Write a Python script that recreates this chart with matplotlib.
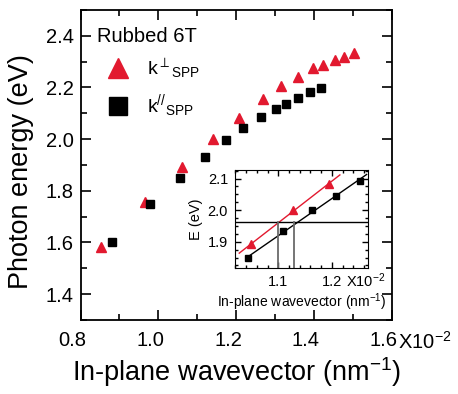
import matplotlib
matplotlib.use("Agg")
import matplotlib.pyplot as plt
import matplotlib.transforms as mtransforms
import numpy as np
from matplotlib.lines import Line2D
from matplotlib.ticker import MultipleLocator, FormatStrFormatter

plt.rcParams['font.family'] = ['Liberation Sans', 'DejaVu Sans']
plt.rcParams['mathtext.fontset'] = 'custom'
plt.rcParams['mathtext.rm'] = 'Liberation Sans'
plt.rcParams['mathtext.it'] = 'Liberation Sans'
plt.rcParams['mathtext.fallback'] = 'stixsans'

# main panel data (x in units of 1e-2 nm^-1)
perp_k = [0.852, 0.966, 1.061, 1.140, 1.207, 1.268, 1.316, 1.359, 1.398, 1.424, 1.454, 1.478, 1.504]
perp_E = [1.582, 1.755, 1.893, 1.999, 2.083, 2.154, 2.204, 2.242, 2.276, 2.288, 2.305, 2.319, 2.332]
par_k = [0.881, 0.979, 1.056, 1.121, 1.174, 1.219, 1.263, 1.302, 1.329, 1.360, 1.390, 1.418]
par_E = [1.601, 1.749, 1.851, 1.932, 1.996, 2.041, 2.087, 2.118, 2.136, 2.159, 2.181, 2.196]

# inset data
ins_perp_k = [1.049, 1.128, 1.195]
ins_perp_E = [1.892, 1.999, 2.084]
ins_par_k = [1.044, 1.109, 1.163, 1.208, 1.252]
ins_par_E = [1.848, 1.934, 1.999, 2.046, 2.093]
fit_range_perp = [1.027, 1.215]
fit_range_par = [1.041, 1.265]
E_level = 1.961
cross_k = [1.0985, 1.1284]

red = '#e2192f'

fig = plt.figure(figsize=(4.58, 3.94), dpi=100)
ax = fig.add_axes([0.176, 0.188, 0.679, 0.787])

ax.plot(perp_k, perp_E, '^', color=red, ms=7.5, mec=red, ls='none')
ax.plot(par_k, par_E, 's', color='black', ms=5.5, ls='none')

ax.set_xlim(0.8, 1.6)
ax.set_ylim(1.3, 2.5)
ax.xaxis.set_major_locator(MultipleLocator(0.2))
ax.xaxis.set_minor_locator(MultipleLocator(0.1))
ax.yaxis.set_major_locator(MultipleLocator(0.2))
ax.yaxis.set_minor_locator(MultipleLocator(0.1))
ax.xaxis.set_major_formatter(FormatStrFormatter('%.1f'))
ax.yaxis.set_major_formatter(FormatStrFormatter('%.1f'))
ax.tick_params(which='both', direction='in', top=True, right=True, labelsize=14.5, width=1.2)
ax.tick_params(which='major', length=7, pad=8)
ax.tick_params(which='minor', length=4)
ax.tick_params(axis='y', which='major', pad=5)
for s in ax.spines.values():
    s.set_linewidth(1.3)

# origin-style: x tick labels sit a bit left of their ticks
shift = mtransforms.ScaledTranslation(-8 / 100, 0, fig.dpi_scale_trans)
for lbl in ax.get_xticklabels():
    lbl.set_transform(lbl.get_transform() + shift)

ax.set_xlabel('In-plane wavevector (nm$^{-1}$)', fontsize=19.5, labelpad=4)
ax.set_ylabel('Photon energy (eV)', fontsize=19.5)
ax.yaxis.set_label_coords(-0.15, 0.48)
ax.text(1.022, -0.035, 'X10$^{-2}$', transform=ax.transAxes, fontsize=14.5,
        ha='left', va='top')

ax.text(0.052, 0.913, 'Rubbed 6T', transform=ax.transAxes, fontsize=14.5,
        ha='left', va='center')
handles = [Line2D([], [], marker='^', color=red, ls='none', ms=15),
           Line2D([], [], marker='s', color='black', ls='none', ms=13)]
labels = ['k$^{\\perp}{}_{\\mathrm{SPP}}$', 'k$^{\\mathrm{//}}{}_{\\mathrm{SPP}}$']
leg = ax.legend(handles, labels, loc='upper left', bbox_to_anchor=(0.0, 0.906),
                frameon=False, fontsize=14, labelspacing=0.64, handletextpad=0.5,
                borderaxespad=0.6, borderpad=0.3)

# inset
ins = fig.add_axes([0.513, 0.3206, 0.291, 0.2479])
p1 = np.polyfit(ins_perp_k, ins_perp_E, 1)
p2 = np.polyfit(ins_par_k, ins_par_E, 1)
ins.plot(fit_range_perp, np.polyval(p1, fit_range_perp), color=red, lw=1)
ins.plot(fit_range_par, np.polyval(p2, fit_range_par), color='black', lw=1)
ins.plot(ins_perp_k, ins_perp_E, '^', color=red, ms=5.5)
ins.plot(ins_par_k, ins_par_E, 's', color='black', ms=4.5)
ins.axhline(E_level, color='black', lw=1)
ins.set_xlim(1.019, 1.268)
ins.set_ylim(1.818, 2.127)
for ck in cross_k:
    ins.plot([ck, ck], [1.818, E_level], color='#6a6a6a', lw=1.3)
ins.xaxis.set_major_locator(MultipleLocator(0.1))
ins.xaxis.set_minor_locator(MultipleLocator(0.02))
ins.yaxis.set_major_locator(MultipleLocator(0.1))
ins.yaxis.set_minor_locator(MultipleLocator(0.025))
ins.xaxis.set_major_formatter(FormatStrFormatter('%.1f'))
ins.yaxis.set_major_formatter(FormatStrFormatter('%.1f'))
ins.tick_params(which='both', direction='in', top=True, right=True, labelsize=10.5, width=1)
ins.tick_params(which='major', length=4, pad=5)
ins.tick_params(which='minor', length=2.5)
ins.set_xlabel('In-plane wavevector (nm$^{-1}$)', fontsize=10, labelpad=2)
ins.set_ylabel('E (eV)', fontsize=10.5, labelpad=3)
ins.text(0.83, -0.035, 'X10$^{-2}$', transform=ins.transAxes, fontsize=10.5,
         ha='left', va='top')

fig.savefig('out.png', dpi=100)
